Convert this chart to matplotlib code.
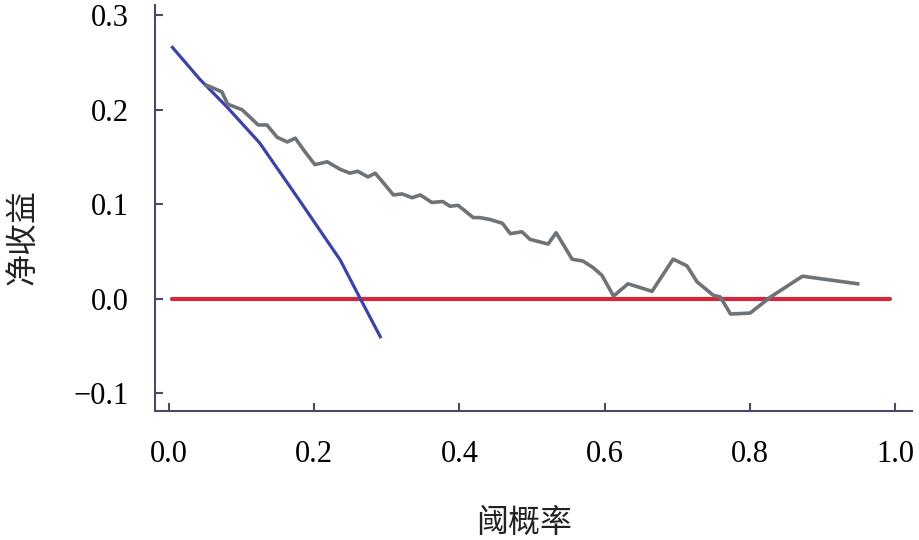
import matplotlib
matplotlib.use('Agg')
import matplotlib.pyplot as plt

# 字体配置
plt.rcParams['font.family'] = ['Liberation Serif', 'DejaVu Serif']
plt.rcParams['axes.unicode_minus'] = True

# 数据：阈概率与净收益
model_x = [0.052, 0.073, 0.081, 0.101, 0.112, 0.123, 0.135, 0.149, 0.163, 0.174,
           0.187, 0.201, 0.218, 0.236, 0.249, 0.260, 0.274, 0.284, 0.295, 0.309,
           0.321, 0.335, 0.346, 0.362, 0.377, 0.387, 0.398, 0.419, 0.428, 0.442,
           0.459, 0.470, 0.486, 0.497, 0.522, 0.533, 0.555, 0.570, 0.584, 0.596,
           0.612, 0.632, 0.665, 0.694, 0.713, 0.727, 0.749, 0.759, 0.773, 0.800,
           0.828, 0.872, 0.948]
model_y = [0.226, 0.219, 0.206, 0.200, 0.192, 0.184, 0.184, 0.171, 0.166, 0.170,
           0.156, 0.142, 0.145, 0.137, 0.133, 0.135, 0.129, 0.133, 0.123, 0.110,
           0.111, 0.107, 0.110, 0.102, 0.103, 0.098, 0.099, 0.086, 0.086, 0.084,
           0.080, 0.069, 0.071, 0.063, 0.058, 0.070, 0.042, 0.040, 0.033, 0.025,
           0.003, 0.016, 0.008, 0.042, 0.035, 0.018, 0.004, 0.002, -0.016, -0.015,
           0.002, 0.024, 0.016]

all_x = [0.005, 0.043, 0.080, 0.125, 0.180, 0.236, 0.263, 0.291]
all_y = [0.266, 0.232, 0.203, 0.165, 0.104, 0.041, 0.001, -0.040]

none_x = [0.005, 0.993]
none_y = [0.0, 0.0]

xticks = [0.0, 0.2, 0.4, 0.6, 0.8, 1.0]
yticks = [-0.1, 0.0, 0.1, 0.2, 0.3]

fig = plt.figure(figsize=(9.2, 5.4), dpi=100)
ax = fig.add_axes([0.1685, 0.239, 0.823, 0.752])

ax.plot(none_x, none_y, color='#d3283a', linewidth=3.0, solid_capstyle='round', zorder=2)
ax.plot(all_x, all_y, color='#3a44a8', linewidth=2.3, zorder=3)
ax.plot(model_x, model_y, color='#6e7378', linewidth=2.6, zorder=4)

ax.set_xlim(-0.019, 1.023)
ax.set_ylim(-0.1185, 0.311)
ax.set_xticks(xticks)
ax.set_yticks(yticks)
ax.set_xticklabels(['%.1f' % v for v in xticks])
ax.set_yticklabels(['\u2212%.1f' % abs(v) if v < 0 else '%.1f' % v for v in yticks])

spine_color = '#4a4a66'
for s in ['top', 'right']:
    ax.spines[s].set_visible(False)
for s in ['left', 'bottom']:
    ax.spines[s].set_color(spine_color)
    ax.spines[s].set_linewidth(1.5)

ax.tick_params(axis='both', direction='in', length=6, width=1.5, color=spine_color,
               labelsize=22, labelcolor='black')
ax.tick_params(axis='y', pad=19)
ax.tick_params(axis='x', pad=21)

cjk = ['Noto Sans CJK SC', 'DejaVu Sans']
fig.text(524 / 920, 1 - 523 / 540, '阈概率', family=cjk, fontsize=23,
         ha='center', va='center', color='#222222')
fig.text(22 / 920, 1 - 237 / 540, '净收益', family=cjk, fontsize=23,
         rotation=90, ha='center', va='center', color='#222222')

fig.savefig('out.png', dpi=100)
